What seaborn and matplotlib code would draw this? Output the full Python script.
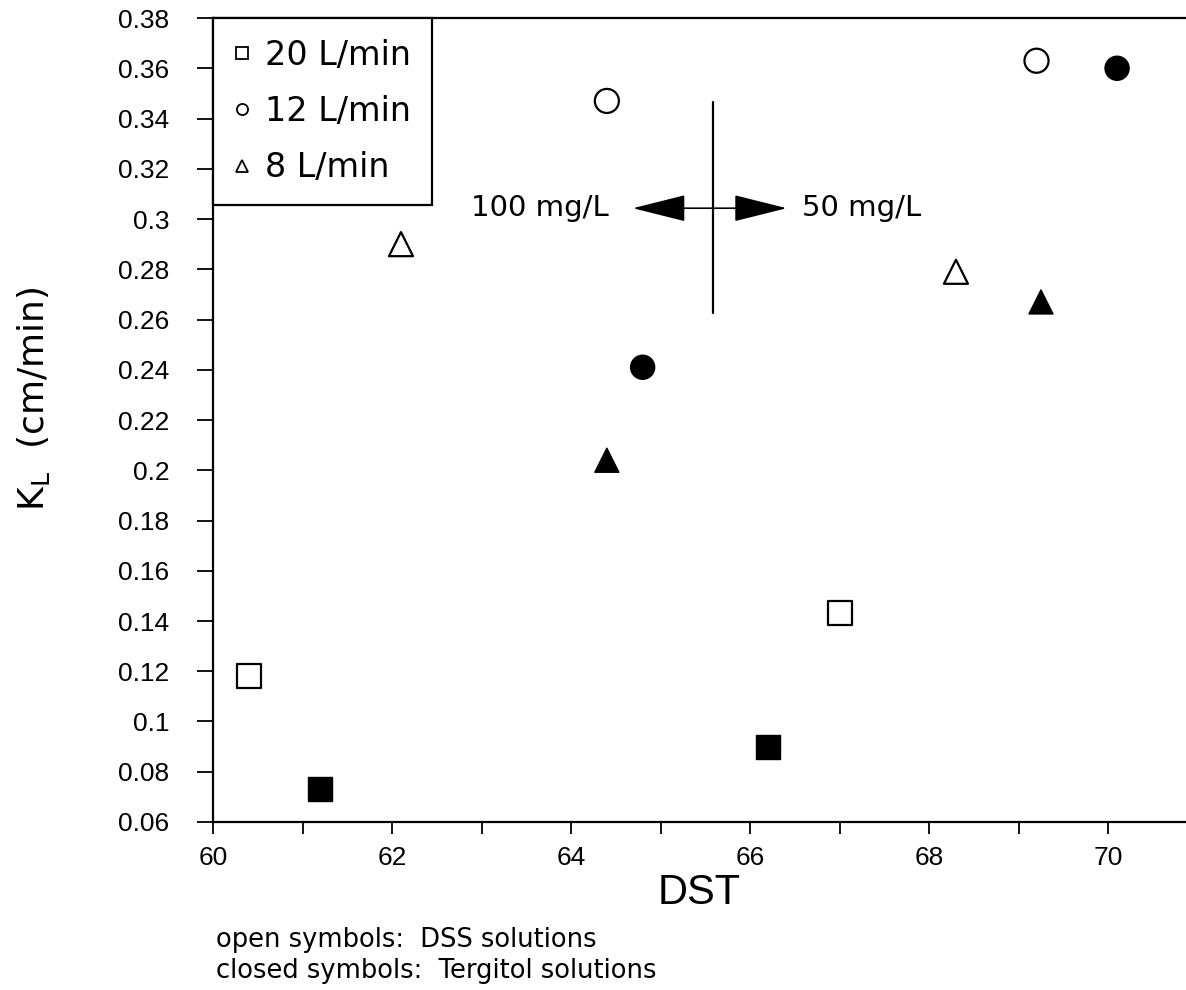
import matplotlib
matplotlib.use('Agg')
import matplotlib.pyplot as plt
from matplotlib.lines import Line2D
import seaborn as sns
import pandas as pd

# open symbols = DSS, closed symbols = Tergitol
flows = ['20 L/min', '12 L/min', '8 L/min']
dss_flow = ['20 L/min', '20 L/min', '12 L/min', '12 L/min', '8 L/min', '8 L/min']
dss_dst = [60.4, 67.0, 64.4, 69.2, 62.1, 68.3]
dss_kl = [0.118, 0.143, 0.347, 0.363, 0.290, 0.279]
terg_flow = ['20 L/min', '20 L/min', '12 L/min', '12 L/min', '8 L/min', '8 L/min']
terg_dst = [61.2, 66.2, 64.8, 70.1, 64.4, 69.25]
terg_kl = [0.073, 0.090, 0.241, 0.360, 0.204, 0.267]

x_ticks = [60, 62, 64, 66, 68, 70]
x_minor = [61, 63, 65, 67, 69]
x_labels = ['60', '62', '64', '66', '68', '70']
y_ticks = [0.06, 0.08, 0.10, 0.12, 0.14, 0.16, 0.18, 0.20, 0.22, 0.24,
           0.26, 0.28, 0.30, 0.32, 0.34, 0.36, 0.38]
y_labels = ['0.06', '0.08', '0.1', '0.12', '0.14', '0.16', '0.18', '0.2', '0.22',
            '0.24', '0.26', '0.28', '0.3', '0.32', '0.34', '0.36', '0.38']

marker_map = {'20 L/min': 's', '12 L/min': 'o', '8 L/min': '^'}

sns.set_style('ticks')
plt.rcParams['font.family'] = ['Liberation Sans', 'DejaVu Sans']
plt.rcParams['text.color'] = 'black'
plt.rcParams['axes.labelcolor'] = 'black'
plt.rcParams['xtick.color'] = 'black'
plt.rcParams['ytick.color'] = 'black'
wide = ['DejaVu Sans']

df_dss = pd.DataFrame({'DST': dss_dst, 'KL': dss_kl, 'flow': dss_flow})
df_terg = pd.DataFrame({'DST': terg_dst, 'KL': terg_kl, 'flow': terg_flow})

fig = plt.figure(figsize=(11.86, 9.9), dpi=100)
ax = fig.add_axes([0.1796, 0.1697, 0.8204, 0.8121])

sns.scatterplot(data=df_dss, x='DST', y='KL', style='flow', markers=marker_map,
                color='white', edgecolor='black', linewidth=1.6, s=300,
                legend=False, ax=ax, zorder=3)
sns.scatterplot(data=df_terg, x='DST', y='KL', style='flow', markers=marker_map,
                color='black', edgecolor='black', linewidth=1.0, s=300,
                legend=False, ax=ax, zorder=3)

ax.set_xlim(60, 70.87)
ax.set_ylim(0.06, 0.38)
ax.set_xticks(x_ticks)
ax.set_xticklabels(x_labels)
ax.set_xticks(x_minor, minor=True)
ax.set_yticks(y_ticks)
ax.set_yticklabels(y_labels)
ax.tick_params(axis='y', which='both', direction='out', length=11.5, width=1.3,
               pad=20, labelsize=19)
ax.tick_params(axis='x', which='both', direction='out', length=8.5, width=1.3,
               pad=9, labelsize=19)
for side in ['left', 'bottom', 'top']:
    ax.spines[side].set_linewidth(1.6)
    ax.spines[side].set_color('black')
ax.spines['right'].set_visible(False)

ax.set_xlabel('DST', fontsize=30)
ax.xaxis.set_label_coords(0.5, -0.064)
ax.set_ylabel('K$_\\mathregular{L}$  (cm/min)', fontsize=26, family=wide)
ax.yaxis.set_label_coords(-0.165, 0.527)

# concentration divider with arrows
div_x = 65.59
arrow_y = 0.3043
ax.plot([div_x, div_x], [0.2624, 0.3465], color='black', lw=1.6)
astyle = '-|>,head_length=3.4,head_width=0.85'
ax.annotate('', xy=(64.69, arrow_y), xytext=(div_x, arrow_y),
            arrowprops=dict(arrowstyle=astyle, color='black', lw=1.2,
                            shrinkA=0, shrinkB=0, mutation_scale=10))
ax.annotate('', xy=(66.41, arrow_y), xytext=(div_x, arrow_y),
            arrowprops=dict(arrowstyle=astyle, color='black', lw=1.2,
                            shrinkA=0, shrinkB=0, mutation_scale=10))
ax.text(64.42, arrow_y, '100 mg/L', ha='right', va='center', fontsize=21, family=wide)
ax.text(66.58, arrow_y, '50 mg/L', ha='left', va='center', fontsize=21, family=wide)

handles = [Line2D([], [], linestyle='none', marker=marker_map[f], markersize=8,
                  markerfacecolor='white', markeredgecolor='black',
                  markeredgewidth=1.3, label=f) for f in flows]
leg = ax.legend(handles=handles, loc='upper left', borderaxespad=0,
                prop={'family': wide, 'size': 24}, frameon=True, fancybox=False,
                framealpha=1, edgecolor='black', handlelength=0.5,
                handletextpad=0.45, labelspacing=0.7, borderpad=0.62)
leg.get_frame().set_linewidth(1.6)

fig.text(0.182, 0.043, 'open symbols:  DSS solutions', fontsize=18.5, family=wide)
fig.text(0.182, 0.012, 'closed symbols:  Tergitol solutions', fontsize=18.5, family=wide)

fig.savefig('out.png', dpi=100)
